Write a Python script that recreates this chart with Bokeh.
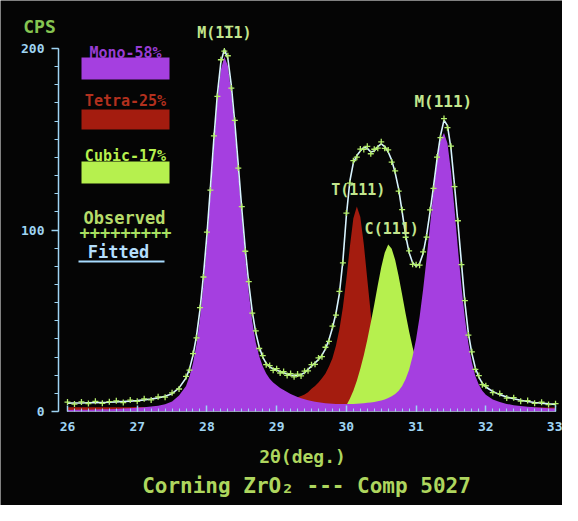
from bokeh.plotting import figure
from bokeh.models import ColumnDataSource, Label, BoxAnnotation, SingleIntervalTicker
from bokeh.embed import file_html
from bokeh.resources import INLINE

# ---- data (2-theta in degrees, intensity in CPS) ----
two_theta = [
    26.0, 26.1, 26.2, 26.3, 26.4, 26.5, 26.6, 26.7, 26.8, 26.9, 27.0, 27.1, 27.2, 27.3, 27.4, 27.5, 27.6,
    27.7, 27.75, 27.8, 27.85, 27.9, 27.95, 28.0, 28.05, 28.1, 28.15,
    28.2, 28.25, 28.3, 28.35, 28.4, 28.45, 28.5, 28.55, 28.6, 28.65,
    28.7, 28.75, 28.8, 28.85, 28.9, 28.95, 29.0, 29.05, 29.1, 29.15,
    29.2, 29.25, 29.3, 29.35, 29.4, 29.45, 29.5, 29.55, 29.6, 29.65,
    29.7, 29.75, 29.8, 29.85, 29.9, 29.95, 30.0, 30.05, 30.1, 30.15,
    30.2, 30.25, 30.3, 30.35, 30.4, 30.45, 30.5, 30.55, 30.6, 30.65,
    30.7, 30.75, 30.8, 30.85, 30.9, 30.95, 31.0, 31.05, 31.1, 31.15,
    31.2, 31.25, 31.3, 31.35, 31.4, 31.45, 31.5, 31.55, 31.6, 31.65,
    31.7, 31.75, 31.8, 31.85, 31.9, 31.95, 32.0,
    32.1, 32.2, 32.3, 32.4, 32.5, 32.6, 32.7, 32.8, 32.9, 33.0,
]

mono_fill = [
    0.8, 0.9, 0.9, 1.0, 1.1, 1.2, 1.3, 1.4, 1.6, 1.8, 2.0, 2.3, 2.7, 3.2, 4.0, 5.5, 8.8,
    14.0, 19.4, 26.6, 37.0, 51.3, 70.0, 92.9, 119.1, 146.4, 170.9,
    188.4, 195.4, 190.5, 175.5, 155.0, 131.2, 107.2, 84.9, 65.6, 49.6,
    38.0, 30.5, 25.0, 21.0, 18.0, 16.0, 14.5, 13.0, 11.8, 10.7,
    9.7, 8.8, 8.0, 7.3, 6.7, 6.2, 5.8, 5.4, 5.1, 4.8,
    4.6, 4.4, 4.3, 4.2, 4.1, 4.1, 4.1, 4.1, 4.2, 4.3,
    4.4, 4.5, 4.8, 5.0, 5.3, 5.6, 6.1, 6.6, 7.4, 8.4,
    9.6, 11.5, 14.1, 17.9, 23.0, 30.4, 39.9, 52.1, 67.1, 84.1,
    102.8, 121.5, 137.8, 149.5, 153.5, 147.8, 132.4, 111.8, 89.7, 69.0,
    51.3, 37.4, 27.0, 19.6, 14.7, 11.4, 9.2,
    6.6, 5.2, 4.2, 3.5, 3.0, 2.6, 2.3, 2.0, 1.8, 1.6,
]

tetra_fill = [
    2.3, 2.3, 2.3, 2.3, 2.3, 2.3, 2.35, 2.4, 2.4, 2.4, 2.45, 2.5, 2.5, 2.55, 2.6, 2.6, 2.7,
    2.7, 2.8, 2.8, 2.8, 2.9, 2.9, 2.95, 3.0, 3.05, 3.1,
    3.15, 3.2, 3.3, 3.35, 3.4, 3.5, 3.6, 3.7, 3.8, 3.9,
    4.1, 4.2, 4.4, 4.6, 4.8, 5.0, 5.3, 5.6, 5.9, 6.3,
    6.7, 7.2, 7.8, 8.5, 9.4, 10.6, 12.5, 14.0, 16.0, 18.3,
    21.0, 24.8, 29.3, 36.2, 45.3, 57.5, 73.0, 90.8, 106.5, 113.0,
    107.2, 92.2, 72.9, 53.8, 37.5, 25.3, 17.0, 11.7, 8.6, 6.9,
    5.8, 5.1, 4.6, 4.3, 4.0, 3.8, 3.6, 3.4, 3.3, 3.2,
    3.1, 3.0, 2.9, 2.8, 2.75, 2.7, 2.65, 2.6, 2.55, 2.5,
    2.5, 2.45, 2.45, 2.4, 2.4, 2.35, 2.35,
    2.3, 2.3, 2.25, 2.25, 2.2, 2.2, 2.2, 2.2, 2.15, 2.15,
]

cubic_fill = [
    0.2, 0.2, 0.2, 0.2, 0.2, 0.2, 0.2, 0.25, 0.25, 0.25, 0.25, 0.3, 0.3, 0.3, 0.3, 0.35, 0.35,
    0.35, 0.35, 0.35, 0.35, 0.4, 0.4, 0.4, 0.4, 0.4, 0.4,
    0.4, 0.45, 0.45, 0.45, 0.45, 0.45, 0.5, 0.5, 0.5, 0.5,
    0.5, 0.55, 0.55, 0.55, 0.55, 0.6, 0.6, 0.6, 0.65, 0.65,
    0.7, 0.7, 0.75, 0.75, 0.8, 0.85, 0.9, 0.95, 1.0, 1.05,
    1.1, 1.2, 1.3, 1.5, 1.8, 2.4, 3.5, 7.0, 11.5, 17.0,
    23.5, 31.0, 39.5, 49.0, 59.0, 69.5, 79.5, 87.5, 92.0, 89.7,
    83.5, 74.5, 64.3, 53.9, 44.1, 35.4, 28.2, 22.2, 17.5, 13.8,
    11.1, 9.0, 7.5, 6.4, 5.6, 4.9, 4.4, 4.0, 3.6, 3.3,
    3.0, 2.8, 2.5, 2.35, 2.2, 2.05, 1.9,
    1.65, 1.46, 1.3, 1.16, 1.05, 0.95, 0.86, 0.79, 0.72, 0.66,
]

fitted = [
    4.6, 4.7, 4.7, 4.8, 4.9, 5.0, 5.1, 5.3, 5.5, 5.7, 6.0, 6.4, 6.9, 7.5, 8.4, 9.8, 13.0,
    18.5, 23.5, 31.0, 41.5, 56.0, 75.0, 97.5, 123.5, 150.5, 175.0,
    192.5, 199.5, 194.5, 179.5, 159.0, 135.5, 111.5, 89.5, 70.5, 55.0,
    43.5, 35.5, 30.0, 26.5, 24.5, 23.5, 22.8, 22.0, 21.3, 20.6,
    20.1, 19.8, 19.8, 20.3, 21.4, 23.2, 25.0, 26.8, 28.6, 31.0,
    34.5, 39.5, 46.0, 54.0, 65.0, 83.0, 108.0, 127.0, 137.0, 141.0,
    143.5, 145.5, 145.0, 143.0, 143.5, 146.0, 147.5, 146.0, 143.0, 138.5,
    131.5, 122.5, 110.0, 97.0, 87.5, 82.0, 80.0, 81.5, 87.0, 97.0,
    110.0, 124.0, 139.0, 152.0, 160.5, 157.5, 145.0, 125.0, 104.0, 82.0,
    60.0, 43.0, 32.0, 24.0, 19.0, 15.5, 13.5,
    11.0, 9.3, 8.0, 7.0, 6.2, 5.5, 5.0, 4.6, 4.2, 3.9,
]

observed = [
    5.2, 4.1, 5.3, 4.4, 5.6, 4.5, 5.4, 5.9, 4.9, 6.3, 5.6, 7.0, 6.4, 8.1, 7.9, 10.3, 12.4,
    19.3, 22.8, 31.9, 40.6, 57.2, 74.1, 98.8, 122.0, 151.9, 173.6,
    193.8, 198.6, 196.0, 178.2, 160.4, 134.1, 112.9, 88.3, 71.6, 54.2,
    44.4, 34.7, 30.8, 25.8, 25.3, 22.7, 23.6, 21.2, 22.0, 19.9,
    20.9, 19.1, 20.6, 19.6, 22.2, 22.4, 25.8, 26.0, 29.5, 30.2,
    35.4, 38.6, 47.0, 53.1, 66.2, 81.9, 109.3, 125.8, 138.2, 140.1,
    144.6, 144.4, 146.1, 142.0, 144.5, 145.1, 148.6, 145.0, 144.1, 137.4,
    132.6, 121.4, 111.2, 96.0, 88.5, 81.1, 80.9, 80.6, 88.0, 96.1,
    111.1, 122.9, 140.2, 150.9, 161.4, 156.4, 146.2, 123.9, 105.1, 80.9,
    61.1, 42.1, 32.9, 23.2, 19.8, 14.8, 14.2,
    10.4, 9.9, 7.4, 7.6, 5.7, 6.0, 4.5, 5.1, 3.8, 4.3,
]

phase_names = ["Mono-58%", "Tetra-25%", "Cubic-17%"]
peak_names = ["M(1\u030511)", "T(111)", "C(111)", "M(111)"]
peak_pos = [28.25, 30.17, 30.65, 31.39]
peak_lab_y = [208.8, 121.8, 100.8, 170.8]

# ---- styling ----
BG = "#050505"
PURPLE = "#a53fe0"
RED = "#a41c0f"
GREEN = "#b6f04e"
AXIS = "#9fd4f2"
LABEL_GREEN = "#aed65e"
PEAK_TXT = "#c3e68e"
FONT = "DejaVu Sans Mono"

W, H = 562, 505
PX_X = 69.72          # pixels per degree
PX_Y = 1.815          # pixels per count
X0 = 26 + (8 - 75) / PX_X      # page x 8 is the left edge of the figure
X1 = X0 + W / PX_X
Y1 = (419 - 8) / PX_Y          # page y 419 is zero counts
Y0 = (419 - 8 - H) / PX_Y

def dx(px):  # page pixel -> data x
    return X0 + (px - 8) / PX_X

def dy(py):  # page pixel -> data y
    return (419 - py) / PX_Y

src = ColumnDataSource(dict(x=two_theta, mono=mono_fill, tetra=tetra_fill,
                            cubic=cubic_fill, fit=fitted, obs=observed))

p = figure(width=W, height=H, x_range=(X0, X1), y_range=(Y0, Y1),
           output_backend="svg", toolbar_location=None,
           background_fill_color=BG, border_fill_color=BG, outline_line_color=None,
           min_border=0)
p.xgrid.visible = False
p.ygrid.visible = False

p.varea(x="x", y1=0, y2="tetra", source=src, fill_color=RED, fill_alpha=1)
p.varea(x="x", y1=0, y2="cubic", source=src, fill_color=GREEN, fill_alpha=1)
p.varea(x="x", y1=0, y2="mono", source=src, fill_color=PURPLE, fill_alpha=1)
p.line(x="x", y="fit", source=src, line_color="#d8f4ff", line_width=1.6)
p.scatter(x="x", y="obs", source=src, marker="cross", size=6,
          line_color="#b4ee6c", line_width=1.3)

# axes (drawn at fixed data locations)
yax = p.yaxis[0]
yax.fixed_location = dx(66)
yax.ticker = SingleIntervalTicker(interval=100, num_minor_ticks=10)
yax.bounds = (0, 200)
yax.axis_line_color = AXIS
yax.axis_line_width = 1.5
yax.major_tick_line_color = AXIS
yax.minor_tick_line_color = AXIS
yax.major_tick_line_width = 1.5
yax.major_tick_out = 7
yax.major_tick_in = 0
yax.minor_tick_out = 4
yax.minor_tick_in = 0
yax.major_label_text_color = AXIS
yax.major_label_text_font = FONT
yax.major_label_text_font_style = "bold"
yax.major_label_text_font_size = "13px"
yax.major_label_standoff = 7

xax = p.xaxis[0]
xax.fixed_location = 0
xax.ticker = SingleIntervalTicker(interval=1, num_minor_ticks=10)
xax.bounds = (26, 33)
xax.axis_line_color = AXIS
xax.axis_line_alpha = 0.5
xax.major_tick_line_color = AXIS
xax.minor_tick_line_color = AXIS
xax.major_tick_line_width = 1.5
xax.major_tick_in = 6
xax.major_tick_out = 0
xax.minor_tick_in = 3
xax.minor_tick_out = 0
xax.major_label_text_color = AXIS
xax.major_label_text_font = FONT
xax.major_label_text_font_style = "bold"
xax.major_label_text_font_size = "13px"
xax.major_label_standoff = 10

def add_text(x, y, text, color, size="14px"):
    p.add_layout(Label(x=x, y=y, text=text, text_color=color, text_font=FONT,
                       text_font_style="bold", text_font_size=size,
                       text_align="center", text_baseline="middle"))

# peak labels
peak_sizes = ["15px", "15px", "15px", "16px"]
for name, xp, yp, fs in zip(peak_names, peak_pos, peak_lab_y, peak_sizes):
    add_text(xp, yp, name, PEAK_TXT, fs)

# legend (drawn by hand like the original screen)
box_colors = [PURPLE, RED, GREEN]
text_colors = ["#983cd4", "#b3301e", GREEN]
text_py = [60, 108, 163]
box_py = [(65, 87), (117, 137), (169, 191)]
for name, bc, tc, ty, (bt, bb) in zip(phase_names, box_colors, text_colors, text_py, box_py):
    add_text(dx(133), dy(ty), name, tc, "15px")
    p.add_layout(BoxAnnotation(left=dx(89), right=dx(177), top=dy(bt), bottom=dy(bb),
                               fill_color=bc, fill_alpha=1, line_color=None))
add_text(dx(132), dy(225), "Observed", "#b6dc6a", "17px")
add_text(dx(133), dy(240), "+++++++++", "#a8e060", "17px")
add_text(dx(126), dy(259), "Fitted", "#b4defc", "17px")
p.add_layout(BoxAnnotation(left=dx(86), right=dx(172), top=dy(268), bottom=dy(270),
                           fill_color="#a8dcff", fill_alpha=1, line_color=None))

# outer texts
add_text(dx(47), dy(34), "CPS", "#86c552", "18px")
add_text(dx(310), dy(464), "2\u03b8(deg.)", LABEL_GREEN, "18px")
add_text(dx(314), dy(493), "Corning ZrO\u2082 --- Comp 5027", LABEL_GREEN, "21px")

open("out.html", "w").write(file_html(p, INLINE))
